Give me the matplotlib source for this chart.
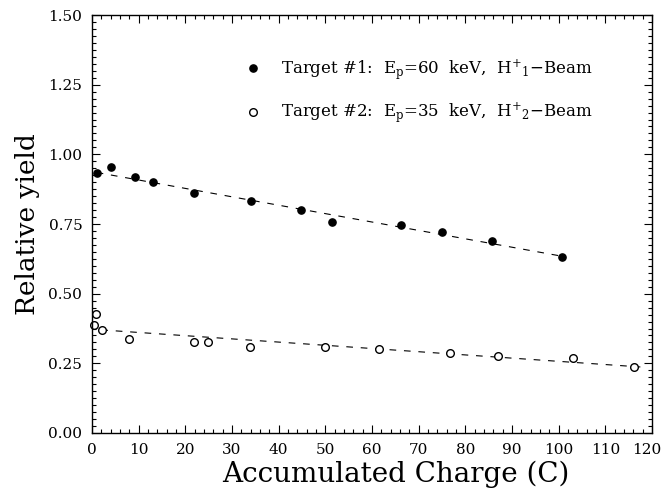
import matplotlib
matplotlib.use("Agg")
import matplotlib.pyplot as plt
from matplotlib.ticker import MultipleLocator, FixedLocator, FuncFormatter
import numpy as np

# Target #1 (filled circles)
t1_charge = [1.0, 4.0, 9.2, 13.0, 21.8, 34.0, 44.8, 51.5, 66.3, 75.0, 85.8, 100.7]
t1_yield = [0.933, 0.954, 0.920, 0.899, 0.862, 0.832, 0.800, 0.758, 0.745, 0.721, 0.688, 0.633]
t1_fit_x = [1.0, 101.5]
t1_fit_y = [0.935, 0.632]

# Target #2 (open circles)
t2_charge = [0.9, 0.5, 2.2, 8.0, 21.8, 24.8, 33.8, 50.0, 61.5, 76.7, 87.0, 103.1, 116.1]
t2_yield = [0.427, 0.389, 0.370, 0.338, 0.326, 0.327, 0.308, 0.308, 0.301, 0.288, 0.275, 0.269, 0.237]
t2_fit_x = [2.0, 117.5]
t2_fit_y = [0.370, 0.237]

x_ticks = [0, 10, 20, 30, 40, 50, 60, 70, 80, 90, 100, 110, 120]
y_ticks = [0.00, 0.25, 0.50, 0.75, 1.00, 1.25, 1.50]

labels = [r"Target #1:  E$_\mathrm{p}$=60  keV,  H$^{+}{}_{1}$$-$Beam",
          r"Target #2:  E$_\mathrm{p}$=35  keV,  H$^{+}{}_{2}$$-$Beam"]

plt.rcParams['font.family'] = ['DejaVu Serif']
plt.rcParams['mathtext.fontset'] = 'dejavuserif'

fig = plt.figure(figsize=(6.64, 4.91), dpi=100)
ax = fig.add_axes([92/664, (491-433)/491, 560/664, (433-15)/491])

dash = (6, 7)
ax.plot(t1_fit_x, t1_fit_y, color='black', lw=0.8, dashes=dash)
ax.plot(t2_fit_x, t2_fit_y, color='black', lw=0.8, dashes=dash)
h1, = ax.plot(t1_charge, t1_yield, 'o', color='black', ms=5.2, ls='none', clip_on=False)
h2, = ax.plot(t2_charge, t2_yield, 'o', mfc='white', mec='black', mew=1.0, ms=5.5, ls='none', clip_on=False)

ax.set_xlim(0, 120)
ax.set_ylim(0, 1.5)
ax.xaxis.set_major_locator(FixedLocator(x_ticks))
ax.xaxis.set_minor_locator(MultipleLocator(2))
ax.yaxis.set_major_locator(FixedLocator(y_ticks))
ax.yaxis.set_minor_locator(MultipleLocator(0.025))
ax.yaxis.set_major_formatter(matplotlib.ticker.FormatStrFormatter('%.2f'))
# last x label drawn separately, nudged left so it stays inside the figure
ax.xaxis.set_major_formatter(FuncFormatter(lambda v, p: '' if v >= x_ticks[-1] else '%d' % v))
ax.tick_params(which='both', direction='in', top=True, right=True, width=0.8)
ax.tick_params(which='major', length=6, labelsize=11, pad=7)
ax.tick_params(which='minor', length=3)
for s in ax.spines.values():
    s.set_linewidth(1.0)

ax.annotate('%d' % x_ticks[-1], xy=(x_ticks[-1], 0), xycoords='data',
            xytext=(-4, -7), textcoords='offset points', ha='center', va='top',
            fontsize=11, annotation_clip=False)

ax.set_xlabel("Accumulated Charge (C)", fontsize=20, labelpad=0)
ax.xaxis.set_label_coords((396-92)/560, -0.065)
ax.set_ylabel("Relative yield", fontsize=19, labelpad=6)

ax.legend([h1, h2], labels, loc='upper left', bbox_to_anchor=(0.26, 0.915),
          frameon=False, fontsize=12, handletextpad=1.2, labelspacing=1.15,
          handlelength=1.0, borderaxespad=0)

fig.savefig("out.png", dpi=100)
